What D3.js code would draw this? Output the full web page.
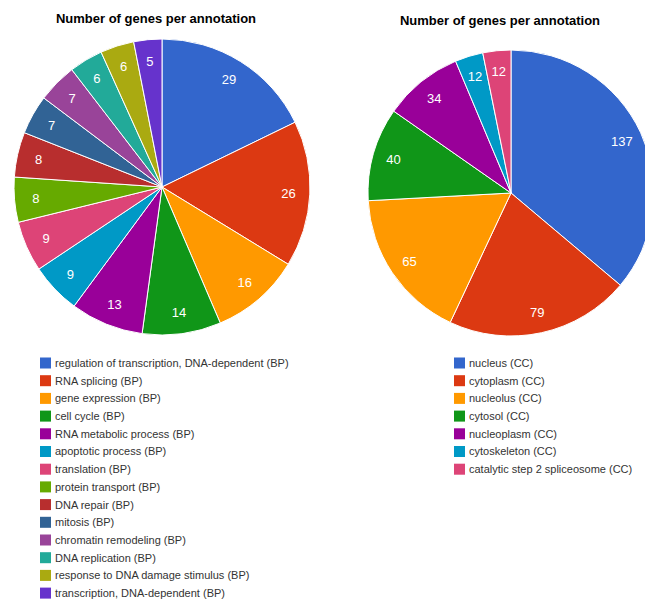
<!DOCTYPE html>
<html lang="en">
  <head>
    <meta charset="UTF-8" />
    <title>Number of genes per annotation</title>
    <script src="https://d3js.org/d3.v7.min.js"></script>
    <style>
      body { margin: 0; background: #fff; }
      svg { display: block; font-family: Arial, "Liberation Sans", sans-serif; }
      .slice path { stroke: #fff; stroke-width: 1; }
      .title { font-size: 13px; font-weight: bold; fill: #000; }
      .lbl { font-size: 13px; fill: #fff; }
      .leg text { font-size: 11px; fill: #333; }
    </style>
  </head>
  <body></body>
  <script type="text/javascript">
    var width = 645,
      height = 603;

    // biological process
    var bpLabels = [
      'regulation of transcription, DNA-dependent (BP)',
      'RNA splicing (BP)',
      'gene expression (BP)',
      'cell cycle (BP)',
      'RNA metabolic process (BP)',
      'apoptotic process (BP)',
      'translation (BP)',
      'protein transport (BP)',
      'DNA repair (BP)',
      'mitosis (BP)',
      'chromatin remodeling (BP)',
      'DNA replication (BP)',
      'response to DNA damage stimulus (BP)',
      'transcription, DNA-dependent (BP)'
    ];
    var bpValues = [29, 26, 16, 14, 13, 9, 9, 8, 8, 7, 7, 6, 6, 5];

    // cellular component
    var ccLabels = [
      'nucleus (CC)',
      'cytoplasm (CC)',
      'nucleolus (CC)',
      'cytosol (CC)',
      'nucleoplasm (CC)',
      'cytoskeleton (CC)',
      'catalytic step 2 spliceosome (CC)'
    ];
    var ccValues = [137, 79, 65, 40, 34, 12, 12];

    var palette = ['#3366cc', '#dc3912', '#ff9900', '#109618', '#990099', '#0099c6',
      '#dd4477', '#66aa00', '#b82e2e', '#316395', '#994499', '#22aa99', '#aaaa11', '#6633cc'];

    var svg = d3.select('body').append('svg')
      .attr('width', width)
      .attr('height', height);

    function drawPie(opts) {
      var color = d3.scaleOrdinal().domain(opts.labels).range(palette);
      var data = opts.labels.map((l, i) => ({ label: l, value: opts.values[i] }));
      var pie = d3.pie().sort(null).value(d => d.value);
      var arc = d3.arc().innerRadius(0).outerRadius(opts.r);
      var lblArc = d3.arc().innerRadius(opts.r * 0.855).outerRadius(opts.r * 0.855);

      svg.append('text')
        .attr('class', 'title')
        .attr('x', opts.titleX)
        .attr('y', opts.titleY)
        .attr('text-anchor', 'middle')
        .text('Number of genes per annotation');

      var g = svg.append('g')
        .attr('transform', `translate(${opts.cx},${opts.cy})`);

      var slices = g.selectAll('.slice')
        .data(pie(data))
        .enter().append('g')
        .attr('class', 'slice');

      slices.append('path')
        .attr('d', arc)
        .attr('fill', d => color(d.data.label));

      slices.append('text')
        .attr('class', 'lbl')
        .attr('transform', d => `translate(${lblArc.centroid(d)})`)
        .attr('text-anchor', 'middle')
        .attr('dy', '0.36em')
        .text(d => d.data.value);

      // legend
      var leg = svg.append('g')
        .attr('class', 'leg')
        .attr('transform', `translate(${opts.legX},${opts.legY})`);

      var rows = leg.selectAll('g')
        .data(data)
        .enter().append('g')
        .attr('transform', (d, i) => `translate(0,${i * 17.7})`);

      rows.append('rect')
        .attr('x', 0)
        .attr('y', -5.5)
        .attr('width', 11)
        .attr('height', 11)
        .attr('fill', d => color(d.label));

      rows.append('text')
        .attr('x', 15)
        .attr('dy', '0.36em')
        .text(d => d.label);
    }

    drawPie({
      labels: bpLabels, values: bpValues,
      cx: 162, cy: 187, r: 148,
      titleX: 156, titleY: 23,
      legX: 40, legY: 363
    });

    drawPie({
      labels: ccLabels, values: ccValues,
      cx: 511, cy: 193, r: 143,
      titleX: 500, titleY: 25,
      legX: 454, legY: 363
    });
  </script>
</html>
